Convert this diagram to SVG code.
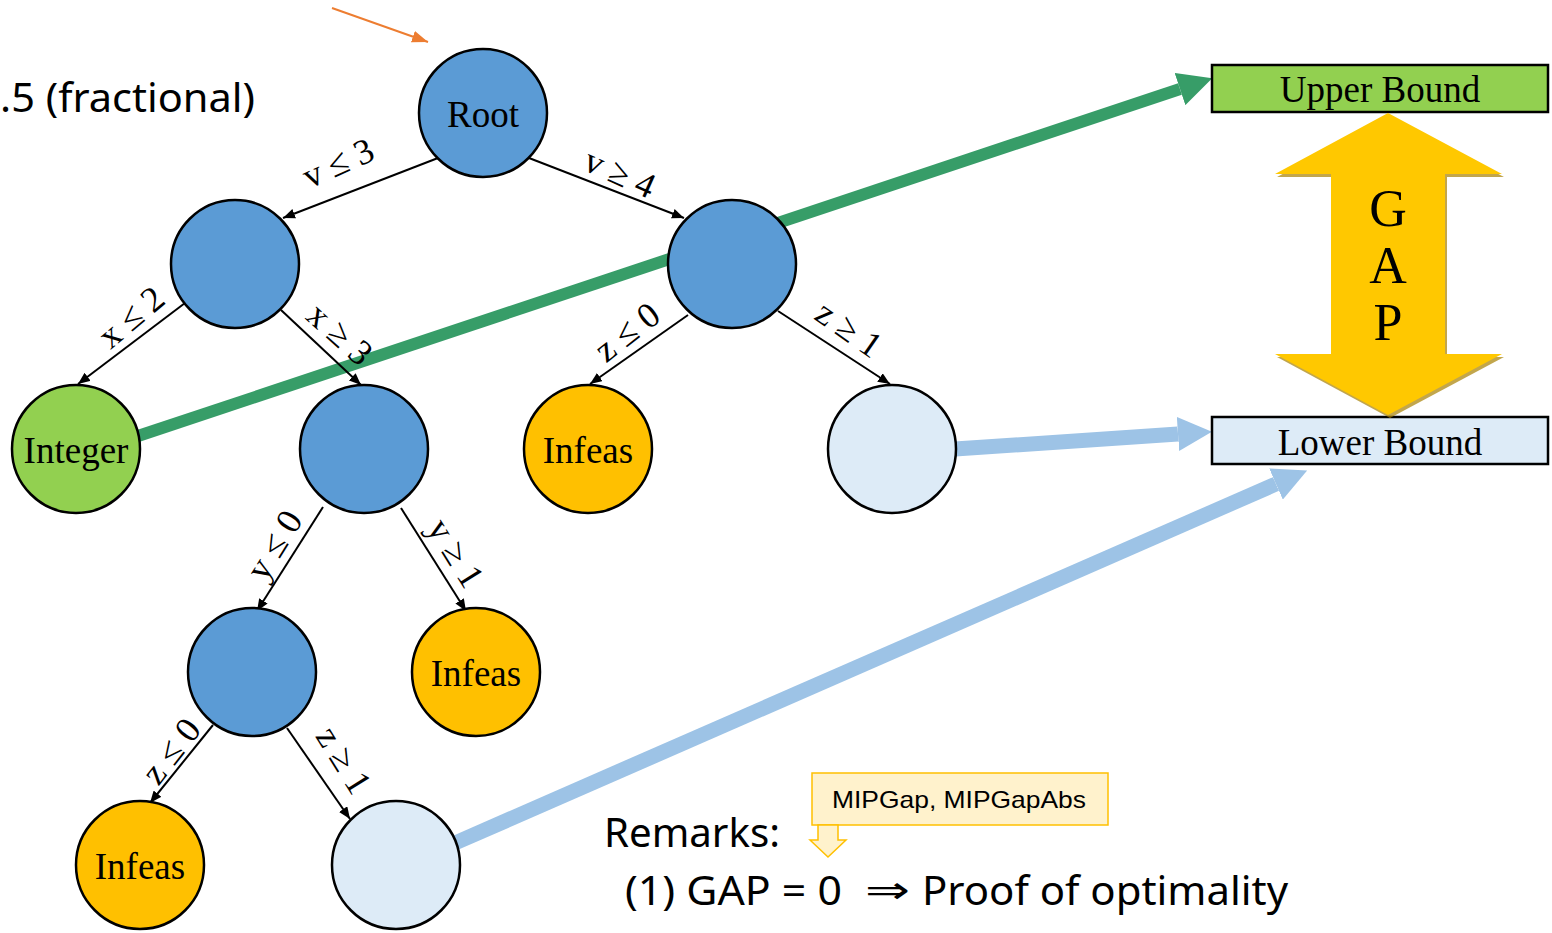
<svg xmlns="http://www.w3.org/2000/svg" width="1552" height="933" viewBox="0 0 1552 933">
  <style>
    .node { stroke: #000; stroke-width: 2.5; }
    .blue { fill: #5B9BD5; }
    .green { fill: #92D050; }
    .infeas { fill: #FFC000; }
    .light { fill: #DDEBF7; }
    .lbl { font-family: "Liberation Serif", "Times New Roman", serif; font-size: 37px; fill: #000; text-anchor: middle; }
    .gapl { font-size: 52px; }
    .edge { stroke: #000; stroke-width: 2; fill: none; marker-end: url(#arr); }
    .elbl { font-family: "Liberation Serif", "Times New Roman", serif; font-size: 36px; fill: #000; text-anchor: middle; dominant-baseline: central; }
    .sans { font-family: "Noto Sans", "Open Sans", "Liberation Sans", sans-serif; fill: #000; }
    .box { stroke: #000; stroke-width: 2.5; }
  </style>
  <defs>
    <marker id="arr" viewBox="0 0 12 10" refX="12" refY="5" markerWidth="12" markerHeight="10" markerUnits="userSpaceOnUse" orient="auto">
      <path d="M0,0 L12,5 L0,10 z" fill="#000"/>
    </marker>
    <marker id="arrOrange" viewBox="0 0 16 12" refX="16" refY="6" markerWidth="16" markerHeight="12" markerUnits="userSpaceOnUse" orient="auto">
      <path d="M0,0 L16,6 L0,12 z" fill="#ED7D31"/>
    </marker>
    <marker id="headGreen" viewBox="0 0 34 34" refX="0" refY="17" markerWidth="34" markerHeight="34" markerUnits="userSpaceOnUse" orient="auto">
      <path d="M0,0 L34,17 L0,34 z" fill="#379D68"/>
    </marker>
    <marker id="headBlue" viewBox="0 0 34 34" refX="0" refY="17" markerWidth="34" markerHeight="34" markerUnits="userSpaceOnUse" orient="auto">
      <path d="M0,0 L34,17 L0,34 z" fill="#9DC3E6"/>
    </marker>
  </defs>

  <!-- pointer at the root -->
  <line x1="332" y1="8" x2="428" y2="42" stroke="#ED7D31" stroke-width="2"  marker-end="url(#arrOrange)"/>

  <text class="sans" x="0" y="112" font-size="40" textLength="255" lengthAdjust="spacingAndGlyphs">.5 (fractional)</text>

  <!-- bound links -->
  <g id="bound-links">
    <line x1="138" y1="436" x2="1180" y2="89" stroke="#379D68" stroke-width="12" marker-end="url(#headGreen)"/>
    <line x1="955" y1="449" x2="1178" y2="434" stroke="#9DC3E6" stroke-width="15" marker-end="url(#headBlue)"/>
    <line x1="455" y1="843" x2="1276" y2="484" stroke="#9DC3E6" stroke-width="15" marker-end="url(#headBlue)"/>
  </g>

  <!-- branching edges -->
  <g id="connectors">
    <line class="edge" x1="438" y1="158" x2="283" y2="218"/>
    <line class="edge" x1="529" y1="158" x2="684" y2="218"/>
    <line class="edge" x1="185" y1="303" x2="78" y2="384"/>
    <line class="edge" x1="281" y1="310" x2="361" y2="385"/>
    <line class="edge" x1="688" y1="315" x2="590" y2="384"/>
    <line class="edge" x1="778" y1="311" x2="890" y2="384"/>
    <line class="edge" x1="323" y1="507" x2="257" y2="611"/>
    <line class="edge" x1="401" y1="508" x2="466" y2="611"/>
    <line class="edge" x1="213" y1="725" x2="150" y2="803"/>
    <line class="edge" x1="287" y1="728" x2="350" y2="819"/>
  </g>

  <!-- nodes -->
  <g id="n-root"><circle class="node blue" cx="483" cy="113" r="64"/><text class="lbl" x="483" y="127">Root</text></g>
  <g id="n-v3"><circle class="node blue" cx="235" cy="264" r="64"/></g>
  <g id="n-v4"><circle class="node blue" cx="732" cy="264" r="64"/></g>
  <g id="n-integer"><circle class="node green" cx="76" cy="449" r="64"/><text class="lbl" x="76" y="463">Integer</text></g>
  <g id="n-x3"><circle class="node blue" cx="364" cy="449" r="64"/></g>
  <g id="n-infeas1"><circle class="node infeas" cx="588" cy="449" r="64"/><text class="lbl" x="588" y="463">Infeas</text></g>
  <g id="n-z1a"><circle class="node light" cx="892" cy="449" r="64"/></g>
  <g id="n-y0"><circle class="node blue" cx="252" cy="672" r="64"/></g>
  <g id="n-infeas2"><circle class="node infeas" cx="476" cy="672" r="64"/><text class="lbl" x="476" y="686">Infeas</text></g>
  <g id="n-infeas3"><circle class="node infeas" cx="140" cy="865" r="64"/><text class="lbl" x="140" y="879">Infeas</text></g>
  <g id="n-z1b"><circle class="node light" cx="396" cy="865" r="64"/></g>

  <!-- edge labels -->
  <g id="edge-labels">
    <text class="elbl" transform="translate(338,163) rotate(-24)">v ≤ 3</text>
    <text class="elbl" transform="translate(620,173) rotate(24)">v ≥ 4</text>
    <text class="elbl" transform="translate(131,317) rotate(-40)">x ≤ 2</text>
    <text class="elbl" transform="translate(340,334) rotate(42)">x ≥ 3</text>
    <text class="elbl" transform="translate(627,332) rotate(-38)">z ≤ 0</text>
    <text class="elbl" transform="translate(849,329) rotate(35)">z ≥ 1</text>
    <text class="elbl" transform="translate(274,545) rotate(-58)">y ≤ 0</text>
    <text class="elbl" transform="translate(456,553) rotate(58)">y ≥ 1</text>
    <text class="elbl" transform="translate(171,751) rotate(-52)">z ≤ 0</text>
    <text class="elbl" transform="translate(344,760) rotate(58)">z ≥ 1</text>
  </g>

  <!-- bounds -->
  <g id="upper-bound">
    <rect class="box" x="1212" y="65" width="336" height="47" fill="#92D050"/>
    <text class="lbl" x="1380" y="102">Upper Bound</text>
  </g>
  <g id="lower-bound">
    <rect class="box" x="1212" y="417" width="336" height="47" fill="#DDEBF7"/>
    <text class="lbl" x="1380" y="455">Lower Bound</text>
  </g>

  <!-- gap double arrow -->
  <g id="gap">
    <polygon points="1390,116 1504,177 1447,177 1447,357 1504,357 1390,418 1277,357 1333,357 1333,177 1277,177" fill="#A88000" opacity="0.7"/>
    <polygon points="1388,113 1502,174 1445,174 1445,354 1502,354 1388,415 1275,354 1331,354 1331,174 1275,174" fill="#FFC800"/>
    <text class="lbl gapl" x="1388" y="226">G</text>
    <text class="lbl gapl" x="1388" y="283">A</text>
    <text class="lbl gapl" x="1388" y="340">P</text>
  </g>

  <!-- remarks -->
  <g id="remarks">
    <text class="sans" x="604" y="847" font-size="40" textLength="176" lengthAdjust="spacingAndGlyphs">Remarks:</text>
    <text class="sans" x="625" y="905" font-size="40" textLength="217" lengthAdjust="spacingAndGlyphs">(1) GAP = 0</text>
    <text x="865" y="903" font-family="'DejaVu Sans', sans-serif" font-size="38" textLength="45" lengthAdjust="spacingAndGlyphs">⇒</text>
    <text class="sans" x="922" y="905" font-size="40" textLength="366" lengthAdjust="spacingAndGlyphs">Proof of optimality</text>
  </g>

  <!-- parameter callout -->
  <g id="mipgap">
    <rect x="812" y="773" width="296" height="52" fill="#FFF2CC" stroke="#FFC000" stroke-width="1.5"/>
    <text x="832" y="808" font-family="'Liberation Sans', Arial, sans-serif" font-size="24" textLength="254" lengthAdjust="spacingAndGlyphs">MIPGap, MIPGapAbs</text>
    <polygon points="818,825 838,825 838,840 846,840 828,857 810,840 818,840" fill="#FFF2CC" stroke="#FFC000" stroke-width="1.5"/>
  </g>
</svg>
